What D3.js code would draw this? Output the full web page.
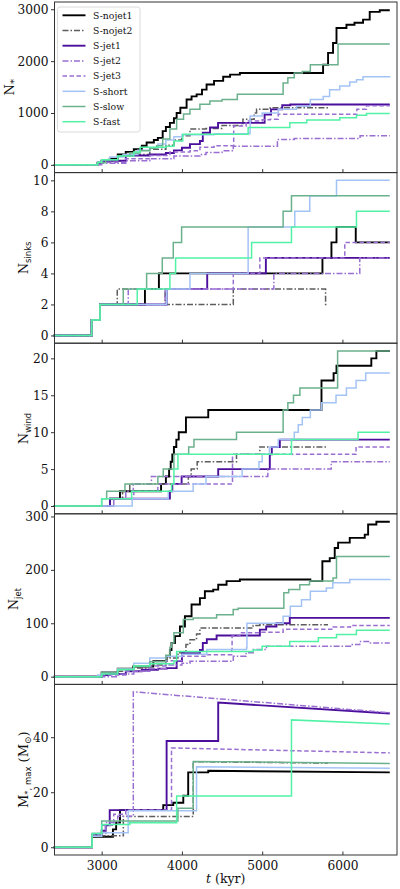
<!DOCTYPE html>
<html>
<head>
<meta charset="utf-8">
<script src="https://cdn.jsdelivr.net/npm/d3@7"></script>
<style>
  body { margin: 0; background: #fff; }
  svg { display: block; }
  text { font-family: "DejaVu Serif", serif; fill: #111; }
  .sub { font-family: "DejaVu Sans", sans-serif; }
</style>
</head>
<body>
<div id="chart"></div>
<script>
// runs, in the legend order
const runs = ["S-nojet1", "S-nojet2", "S-jet1", "S-jet2", "S-jet3", "S-short", "S-slow", "S-fast"];

const timeTicks = [3000, 4000, 5000, 6000];

// N_* (stars) vs t (kyr), step-after
const nStar = [
  [[2400,0],[2880,0],[2950,40],[3000,80],[3100,120],[3200,200],[3300,250],[3400,300],[3500,370],[3560,430],[3650,480],[3700,520],[3760,650],[3800,730],[3850,810],[3900,900],[3934,1000],[3980,1100],[4058,1260],[4120,1320],[4183,1360],[4250,1450],[4307,1550],[4400,1620],[4514,1700],[4600,1740],[4722,1770],[5759,1930],[5821,2160],[5883,2350],[5926,2640],[6050,2700],[6150,2740],[6257,2800],[6340,2950],[6465,2980],[6590,2980]],
  [[2400,0],[2880,0],[2950,40],[3000,80],[3300,200],[3600,300],[3800,380],[3900,480],[4000,560],[4100,690],[4300,700],[4500,760],[4760,880],[4900,1000],[4930,1070],[5100,1100],[5820,1100]],
  [[2400,0],[2880,0],[2950,40],[3000,80],[3300,180],[3600,200],[3800,230],[3900,280],[4000,330],[4100,400],[4224,460],[4260,620],[4350,720],[4450,810],[5030,970],[5110,1070],[5250,1150],[5350,1165],[6590,1165]],
  [[2400,0],[2880,0],[3000,30],[3300,80],[3600,120],[3900,170],[4224,200],[4300,240],[4500,270],[4640,360],[5190,490],[5400,510],[6220,560],[6590,560]],
  [[2400,0],[2880,0],[3000,50],[3300,120],[3600,180],[3850,250],[4100,270],[4224,340],[4400,370],[4645,750],[4800,845],[5000,870],[5100,880],[5200,975],[6180,1070],[6300,1140],[6590,1140]],
  [[2400,0],[2880,0],[2950,50],[3000,100],[3100,150],[3266,200],[3450,280],[3600,330],[3700,400],[3800,480],[3900,540],[4000,580],[4400,600],[4846,620],[4850,940],[5000,1000],[5200,1070],[5428,1130],[5600,1260],[5760,1320],[5840,1450],[5967,1520],[6091,1600],[6175,1640],[6257,1700],[6590,1710]],
  [[2400,0],[2880,0],[2950,40],[3050,100],[3200,170],[3350,230],[3477,270],[3600,320],[3685,370],[3760,500],[3850,690],[3934,880],[4020,980],[4100,1070],[4224,1170],[4348,1230],[4500,1260],[4690,1360],[5261,1580],[5320,1680],[5400,1770],[5500,1800],[5600,1930],[5945,2330],[6590,2330]],
  [[2400,0],[2880,0],[2950,50],[3000,100],[3200,170],[3400,250],[3480,340],[3800,360],[3900,460],[4010,590],[4825,720],[5345,810],[5555,865],[5967,910],[6175,955],[6300,990],[6590,990]]
];

// N_sinks
const nSinks = [
  [[2400,0],[2875,1],[2979,2],[3539,3],[3713,4],[5751,5],[5863,6],[5926,7],[6166,6],[6590,6]],
  [[2400,0],[2875,1],[2979,2],[3194,3],[3790,2],[4640,3],[5790,2],[5820,2]],
  [[2400,0],[2875,1],[2979,2],[3809,3],[4315,4],[5046,5],[6590,5]],
  [[2400,0],[2875,1],[2979,2],[3331,3],[5145,4],[6216,5],[6590,5]],
  [[2400,0],[2875,1],[2979,2],[3790,3],[4640,4],[4971,5],[6029,6],[6590,6]],
  [[2400,0],[2875,1],[2979,2],[3809,3],[4100,4],[4825,7],[5406,8],[5593,9],[5926,10],[6590,10]],
  [[2400,0],[2875,1],[2979,2],[3269,3],[3560,4],[3755,5],[3892,6],[3996,7],[5261,8],[5365,9],[6590,9]],
  [[2400,0],[2875,1],[2979,2],[3443,3],[3850,4],[3921,5],[4868,6],[5365,7],[6175,8],[6590,8]]
];

// N_wind
const nWind = [
  [[2400,0],[3103,1],[3228,2],[3740,3],[3800,4],[3840,5],[3860,6],[3880,7],[3900,8],[3930,9],[3960,10],[4050,12],[4328,13],[5739,17],[5890,18],[5926,19],[6360,20],[6423,21],[6590,21]],
  [[2400,0],[3100,1],[3260,2],[3350,3],[4080,4],[4115,5],[4190,6],[4680,7],[4971,8],[5820,8]],
  [[2400,0],[3103,1],[3850,2],[3880,3],[3996,4],[4452,5],[5095,7],[5120,8],[5220,9],[6590,9]],
  [[2400,0],[3150,1],[3300,2],[3394,3],[3620,4],[5070,5],[5860,6],[6590,6]],
  [[2400,0],[3150,1],[3400,2],[3700,3],[4630,7],[6170,8],[6590,8]],
  [[2400,0],[3380,1],[3830,2],[4140,3],[4300,4],[4750,5],[4960,6],[5000,7],[5090,8],[5200,9],[5400,10],[5450,11],[5500,12],[5600,13],[5740,14],[5920,15],[6050,16],[6170,17],[6290,18],[6590,18]],
  [[2400,0],[3000,1],[3062,2],[3290,3],[3700,4],[3767,5],[3900,7],[4084,8],[4150,9],[4680,10],[5261,13],[5320,14],[5390,15],[5470,16],[5940,21],[6590,21]],
  [[2400,0],[3000,1],[3373,2],[3871,3],[3900,5],[3950,7],[5365,9],[6195,10],[6590,10]]
];

// N_jet
const nJet = [
  [[2400,0],[2900,0],[3000,8],[3200,15],[3394,19],[3643,29],[3809,38],[3850,50],[3870,63],[3913,76],[3975,94],[4037,113],[4120,135],[4224,147],[4286,160],[4390,163],[4452,172],[4556,179],[4722,182],[5600,179],[5750,216],[5842,222],[5904,241],[5946,251],[6091,260],[6278,266],[6320,285],[6423,290],[6590,290]],
  [[2400,0],[2900,0],[3000,5],[3200,10],[3400,16],[3600,22],[3800,35],[3950,45],[4050,60],[4100,69],[4182,80],[4224,91],[4888,96],[4971,97],[5820,97]],
  [[2400,0],[2950,0],[3000,3],[3100,5],[3300,10],[3500,13],[3700,15],[3810,16],[3934,29],[4000,44],[4224,50],[4260,63],[4310,70],[4432,77],[4971,88],[5050,94],[5178,100],[5344,110],[6590,110]],
  [[2400,0],[3000,0],[3200,5],[3400,10],[3600,15],[3800,22],[4000,25],[4100,29],[4640,38],[4800,45],[4888,51],[5054,57],[6100,60],[6216,66],[6350,63],[6590,63]],
  [[2400,0],[2950,0],[3000,3],[3300,10],[3600,20],[3800,30],[4000,38],[4300,41],[4620,51],[4625,76],[4722,82],[4971,83],[5261,89],[5883,93],[6100,96],[6590,96]],
  [[2400,0],[2900,0],[2950,3],[3000,8],[3200,15],[3400,25],[3600,35],[3800,38],[4000,42],[4310,51],[4805,54],[4810,100],[5261,113],[5350,132],[5490,144],[5600,160],[5800,166],[5880,176],[6091,182],[6590,183]],
  [[2400,0],[2900,0],[3000,8],[3200,14],[3400,20],[3600,28],[3800,40],[3850,55],[3870,63],[3900,82],[4017,107],[4141,110],[4432,116],[4639,126],[4700,128],[5270,157],[5330,163],[5469,172],[5590,179],[5883,185],[5926,225],[6590,225]],
  [[2400,0],[2900,0],[3000,5],[3200,13],[3400,20],[3600,24],[3900,30],[3934,47],[4888,50],[5000,57],[5344,66],[5700,73],[5926,79],[6174,87],[6590,87]]
];

// M_*,max (Msun), piecewise linear (jumps given as repeated times)
const mMax = [
  [[2400,0],[2880,0],[2880,3.8],[3140,3.8],[3140,6.5],[3180,6.5],[3180,9],[3228,9],[3228,13.5],[3767,13.5],[3767,15.3],[3892,15.3],[3892,16.2],[4017,16.2],[4017,18.7],[4078,18.7],[4078,27.2],[4328,27.2],[4328,27.8],[6590,27.2]],
  [[2400,0],[2880,0],[2880,4.2],[3270,4.2],[3270,11.2],[4141,11.2],[4141,31.1],[5820,30.6]],
  [[2400,0],[2880,0],[2880,4.6],[3000,4.6],[3000,6],[3050,6],[3050,8],[3100,8],[3100,13.5],[3809,13.5],[3809,38.6],[4452,38.6],[4452,52.6],[6590,48.6]],
  [[2400,0],[2880,0],[2880,5],[3050,5],[3050,9],[3200,9],[3200,11.3],[3394,11.3],[3394,56.5],[6590,48.9]],
  [[2400,0],[2880,0],[2880,4.5],[3000,4.5],[3000,8],[3150,8],[3150,12],[3300,12],[3300,13.5],[3870,13.5],[3870,36.1],[6590,34.3]],
  [[2400,0],[2880,0],[2880,4],[3000,4],[3000,5.3],[3330,5.3],[3330,13.3],[4182,13.3],[4182,29.3],[6590,28.7]],
  [[2400,0],[2880,0],[2880,5],[3000,5],[3000,9.5],[3950,9.5],[3950,14.2],[4141,14.2],[4141,31.2],[6590,30.4]],
  [[2400,0],[2880,0],[2880,5],[3000,5],[3000,8.3],[3350,8.3],[3350,8.9],[3934,8.9],[3934,18.6],[5365,18.6],[5365,46.3],[6590,44.8]]
];

// styles
const colors = ["#000000", "#5c5c5c", "#4b0f9c", "#9a6fd2", "#9a6fd2", "#a4c3f5", "#6cb18d", "#52f2a6"];
const dashes = [null, "6,2,1.5,2", null, "6,2,1.5,2", "4.5,2.5", null, null, null];
const widths = [1.9, 1.5, 1.9, 1.5, 1.5, 1.5, 1.5, 1.5];

const W = 400, H = 889;
const left = 54.5, right = 397, top0 = 2, ph = 170.6;

const svg = d3.select("#chart").append("svg")
  .attr("width", W).attr("height", H);

const x = d3.scaleLinear().domain([2412, 6680]).range([left, right]);

const panels = [
  {data: nStar, domain: [-149, 3140], ticks: [0, 1000, 2000, 3000], step: true, lx: 14, label: ["N", "*", ""], subSans: false},
  {data: nSinks, domain: [-0.5, 10.5], ticks: [0, 2, 4, 6, 8, 10], step: true, lx: 28, label: ["N", "sinks", ""], subSans: true},
  {data: nWind, domain: [-1.05, 22.05], ticks: [0, 5, 10, 15, 20], step: true, lx: 28, label: ["N", "wind", ""], subSans: true},
  {data: nJet, domain: [-14.5, 305], ticks: [0, 100, 200, 300], step: true, lx: 18, label: ["N", "jet", ""], subSans: true},
  {data: mMax, domain: [-2.82, 59.2], ticks: [0, 20, 40], step: false, lx: 28, label: ["M", "*, max", " (M"], subSans: true}
];

panels.forEach(function(p, i) {
  let y0 = top0 + i * ph, y1 = y0 + ph;
  let y = d3.scaleLinear().domain(p.domain).range([y1, y0]);
  let g = svg.append("g");

  let line = d3.line()
    .x(function(d) { return x(d[0]); })
    .y(function(d) { return y(d[1]); })
    .curve(p.step ? d3.curveStepAfter : d3.curveLinear);

  p.data.forEach(function(series, k) {
    g.append("path")
      .attr("d", line(series))
      .attr("fill", "none")
      .attr("stroke", colors[k])
      .attr("stroke-width", widths[k])
      .attr("stroke-dasharray", dashes[k]);
  });

  // y axis, ticks outward
  let ya = g.append("g")
    .attr("transform", `translate(${left},0)`)
    .call(d3.axisLeft(y).tickValues(p.ticks).tickSize(3.5).tickPadding(2.5).tickFormat(d3.format("d")));
  ya.select(".domain").remove();
  ya.selectAll("line").attr("stroke", "#333");
  ya.selectAll("text").style("font-family", "DejaVu Serif").style("font-size", "12.2px").attr("fill", "#111");

  // x ticks, inward at the bottom edge
  let xa = g.append("g")
    .attr("transform", `translate(0,${y1})`)
    .call(d3.axisBottom(x).tickValues(timeTicks).tickSize(-3.5).tickPadding(6.5).tickFormat(d3.format("d")));
  xa.select(".domain").remove();
  xa.selectAll("line").attr("stroke", "#333");
  if (i < panels.length - 1) xa.selectAll("text").remove();
  else xa.selectAll("text").style("font-family", "DejaVu Serif").style("font-size", "12.2px").attr("fill", "#111");

  g.append("rect")
    .attr("x", left).attr("y", y0)
    .attr("width", right - left).attr("height", ph)
    .attr("fill", "none").attr("stroke", "#333").attr("stroke-width", 1);

  // y label
  let t = g.append("text")
    .attr("transform", `translate(${p.lx},${(y0 + y1) / 2}) rotate(-90)`)
    .attr("text-anchor", "middle")
    .style("font-size", "13px");
  t.append("tspan").text(p.label[0]);
  t.append("tspan").attr("class", p.subSans ? "sub" : null)
    .attr("dy", 3).style("font-size", p.subSans ? "8.5px" : "10px").text(p.label[1]);
  if (p.label[2]) {
    t.append("tspan").attr("dy", -3).text(p.label[2]);
    t.append("tspan").attr("dy", 3).style("font-size", "9px").text("\u2299");
    t.append("tspan").attr("dy", -3).text(")");
  }
});

// x label
let xl = svg.append("text")
  .attr("x", (left + right) / 2).attr("y", 883)
  .attr("text-anchor", "middle")
  .style("font-size", "12.5px");
xl.append("tspan").style("font-style", "italic").text("t");
xl.append("tspan").text(" (kyr)");

// legend
let leg = svg.append("g");
leg.append("rect")
  .attr("x", 57.5).attr("y", 7).attr("width", 82.5).attr("height", 125)
  .attr("rx", 2.5)
  .attr("fill", "#fff").attr("fill-opacity", 0.85)
  .attr("stroke", "#d0d0d0").attr("stroke-width", 0.8);

runs.forEach(function(name, k) {
  let ly = 15.3 + k * 15.2;
  leg.append("line")
    .attr("x1", 62.5).attr("x2", 85.5)
    .attr("y1", ly).attr("y2", ly)
    .attr("stroke", colors[k])
    .attr("stroke-width", widths[k])
    .attr("stroke-dasharray", dashes[k]);
  leg.append("text")
    .attr("x", 93).attr("y", ly)
    .attr("dy", "0.35em")
    .style("font-size", "9.3px")
    .text(name);
});
</script>
</body>
</html>
